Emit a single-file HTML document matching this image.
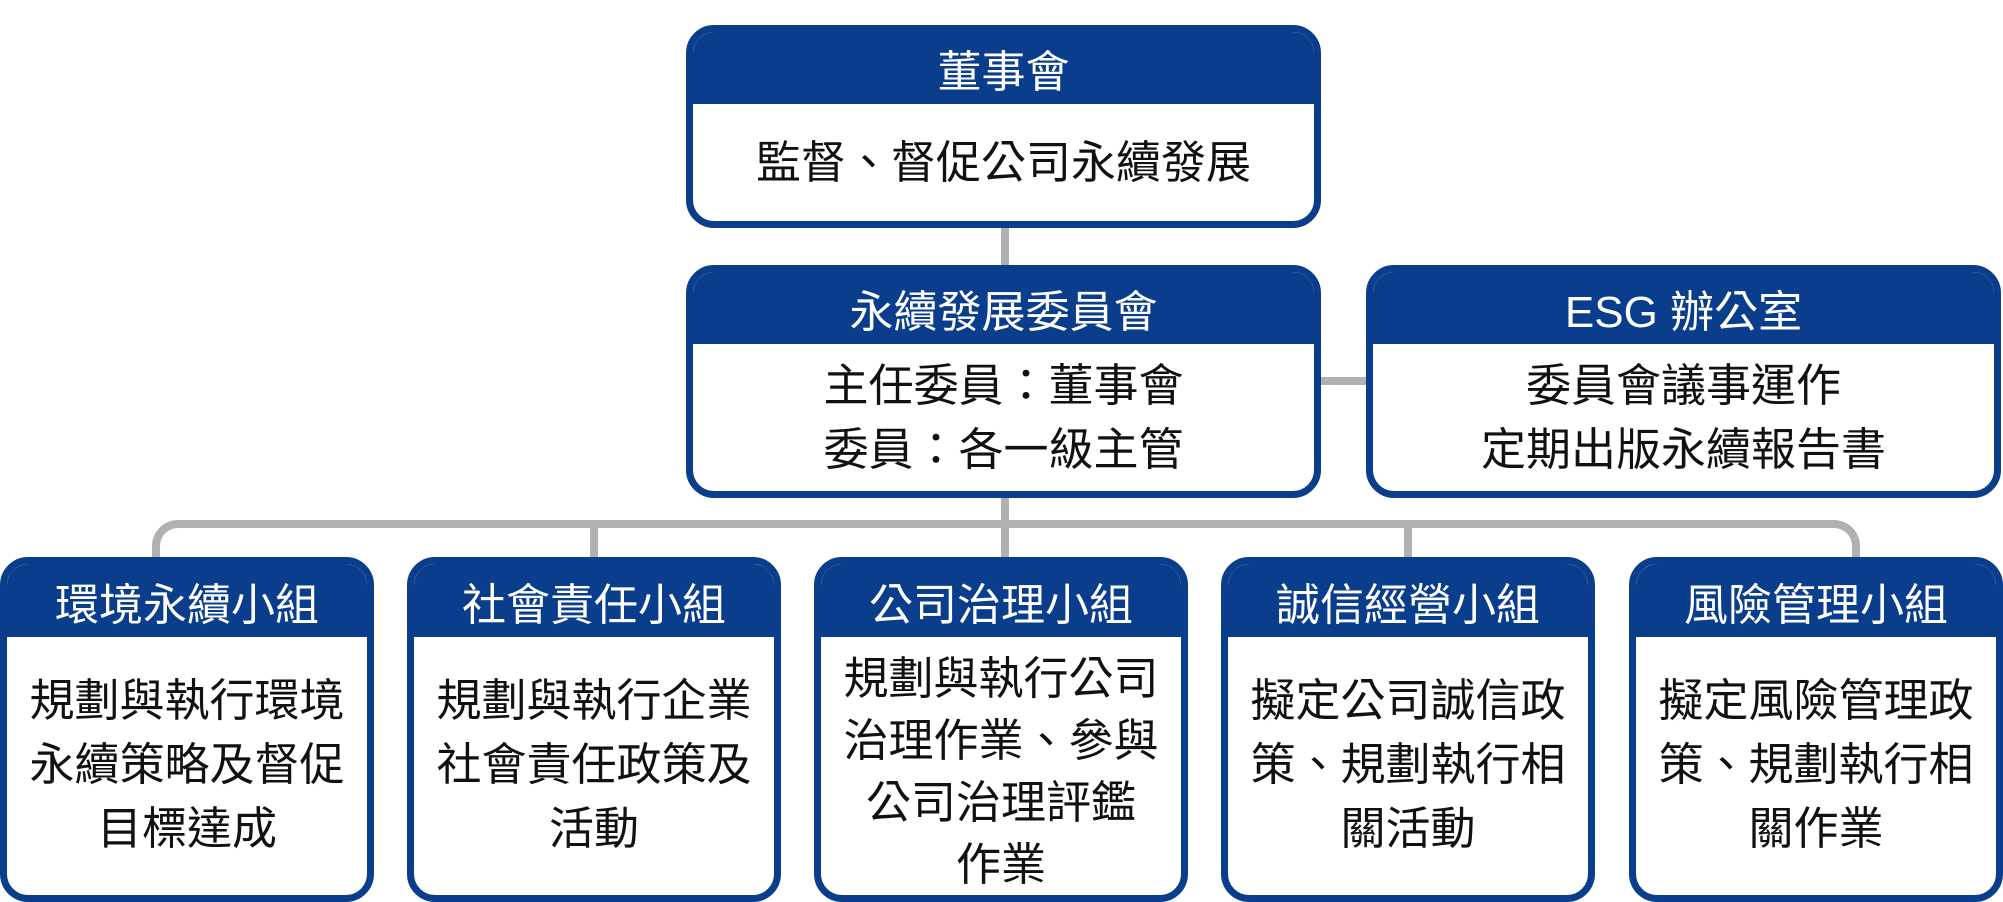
<!DOCTYPE html>
<html><head><meta charset="utf-8"><style>
body{margin:0;width:2003px;height:895px;background:#fff;position:relative;overflow:hidden;font-family:"Liberation Sans","Noto Sans CJK TC",sans-serif}
.b{position:absolute;box-sizing:border-box;border:7px solid #0a3d8c;border-radius:28px;background:#fff;overflow:hidden}
.h{background:#0a3d8c;color:#fff;text-align:center;font-size:44px;display:flex;align-items:center;justify-content:center}
.c{color:#111;text-align:center;font-size:45px;display:flex;align-items:center;justify-content:center;line-height:64px}
.l{position:absolute;background:#b1b1b1}
</style></head><body>
<div class="l" style="left:1001px;top:224px;width:8px;height:46px"></div>
<div class="l" style="left:1318px;top:377px;width:50px;height:8px"></div>
<div class="l" style="left:1001px;top:494px;width:8px;height:30px"></div>
<div style="position:absolute;left:152px;top:520px;width:1708px;height:60px;box-sizing:border-box;border:8px solid #b1b1b1;border-bottom:none;border-radius:26px 26px 0 0"></div>
<div class="l" style="left:590px;top:524px;width:8px;height:40px"></div>
<div class="l" style="left:1001px;top:524px;width:8px;height:40px"></div>
<div class="l" style="left:1404px;top:524px;width:8px;height:40px"></div>

<div class="b" style="left:686px;top:25px;width:635px;height:203px">
<div class="h" style="height:72px">董事會</div>
<div class="c" style="height:117px">監督、督促公司永續發展</div></div>

<div class="b" style="left:686px;top:265px;width:635px;height:233px">
<div class="h" style="height:72px">永續發展委員會</div>
<div class="c" style="height:147px;line-height:64px">主任委員：董事會<br>委員：各一級主管</div></div>

<div class="b" style="left:1366px;top:265px;width:635px;height:233px">
<div class="h" style="height:72px">ESG 辦公室</div>
<div class="c" style="height:147px;line-height:64px">委員會議事運作<br>定期出版永續報告書</div></div>

<div class="b" style="left:0;top:557px;width:374px;height:345px">
<div class="h" style="height:73px">環境永續小組</div>
<div class="c" style="height:256px">規劃與執行環境<br>永續策略及督促<br>目標達成</div></div>

<div class="b" style="left:407px;top:557px;width:374px;height:345px">
<div class="h" style="height:73px">社會責任小組</div>
<div class="c" style="height:256px">規劃與執行企業<br>社會責任政策及<br>活動</div></div>

<div class="b" style="left:814px;top:557px;width:374px;height:345px">
<div class="h" style="height:73px">公司治理小組</div>
<div class="c" style="height:256px;line-height:62px;padding-top:14px;box-sizing:border-box">規劃與執行公司<br>治理作業、參與<br>公司治理評鑑<br>作業</div></div>

<div class="b" style="left:1221px;top:557px;width:374px;height:345px">
<div class="h" style="height:73px">誠信經營小組</div>
<div class="c" style="height:256px">擬定公司誠信政<br>策、規劃執行相<br>關活動</div></div>

<div class="b" style="left:1629px;top:557px;width:374px;height:345px">
<div class="h" style="height:73px">風險管理小組</div>
<div class="c" style="height:256px">擬定風險管理政<br>策、規劃執行相<br>關作業</div></div>
</body></html>
